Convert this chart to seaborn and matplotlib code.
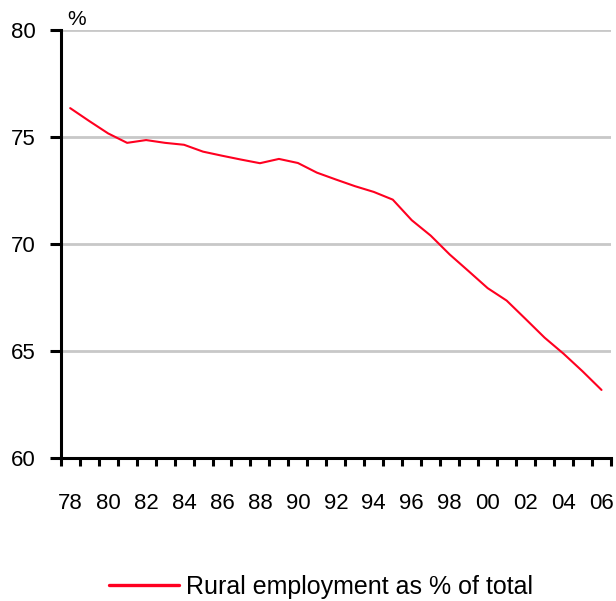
import matplotlib
matplotlib.use("Agg")
import matplotlib.pyplot as plt
from matplotlib.ticker import FixedLocator
import seaborn as sns
import pandas as pd

years = list(range(1978, 2007))
rural_share = [76.34, 75.74, 75.16, 74.72, 74.85, 74.72, 74.63, 74.31, 74.12, 73.94,
               73.77, 73.97, 73.78, 73.33, 73.01, 72.70, 72.43, 72.07, 71.11, 70.39,
               69.51, 68.73, 67.94, 67.36, 66.50, 65.63, 64.88, 64.06, 63.19]
series_name = "Rural employment as % of total"
x_tick_years = list(range(1978, 2007, 2))
x_tick_labels = ["78", "80", "82", "84", "86", "88", "90", "92", "94", "96", "98", "00", "02", "04", "06"]
y_ticks = [60, 65, 70, 75, 80]

df = pd.DataFrame({"year": years, "value": rural_share, "series": series_name})

sns.set_theme(style="white")
plt.rcParams["font.family"] = ["Liberation Sans", "DejaVu Sans"]
plt.rcParams["text.color"] = "black"
plt.rcParams["xtick.color"] = "black"
plt.rcParams["ytick.color"] = "black"
plt.rcParams["axes.labelcolor"] = "black"

fig = plt.figure(figsize=(6.16, 6.01), dpi=100)
ax = fig.add_axes([60.7 / 616, (601 - 458.3) / 601, (611 - 60.7) / 616, (458.3 - 29.7) / 601])

for yv in y_ticks[1:]:
    ax.axhline(yv, color="#c8c8c8", lw=2.0, zorder=0)

sns.lineplot(data=df, x="year", y="value", hue="series", palette=["#ff0020"],
             lw=1.5, ax=ax, legend=True)

ax.set_xlim(1977.5, 2006.5)
ax.set_ylim(60, 80)
ax.set_xlabel("")
ax.set_ylabel("")

ax.set_xticks(x_tick_years)
ax.set_xticklabels(x_tick_labels, fontsize=16, color="black")
ax.xaxis.set_minor_locator(FixedLocator([1977.5 + i for i in range(30)]))
ax.tick_params(axis="x", which="major", length=0, pad=25)
ax.tick_params(axis="x", which="minor", bottom=True, direction="out", length=6, width=2.2, color="black")

ax.set_yticks(y_ticks)
ax.set_yticklabels([str(v) for v in y_ticks], fontsize=16, color="black")
ax.tick_params(axis="y", which="major", left=True, direction="out", length=8, width=2.2,
               color="black", pad=10)

for s in ["top", "right"]:
    ax.spines[s].set_visible(False)
for s in ["left", "bottom"]:
    ax.spines[s].set_color("black")
    ax.spines[s].set_linewidth(2.2)

ax.text(0.011, 1.011, "%", transform=ax.transAxes, fontsize=15, ha="left", va="baseline",
        color="black")

leg = ax.legend(loc="center", bbox_to_anchor=(321 / 616, 1 - 587 / 601),
                bbox_transform=fig.transFigure, frameon=False, fontsize=18,
                handlelength=2.8, handletextpad=0.3)
for t in leg.get_texts():
    t.set_color("black")
for h in leg.get_lines():
    h.set_linewidth(2.4)

fig.savefig("out.png", dpi=100)
